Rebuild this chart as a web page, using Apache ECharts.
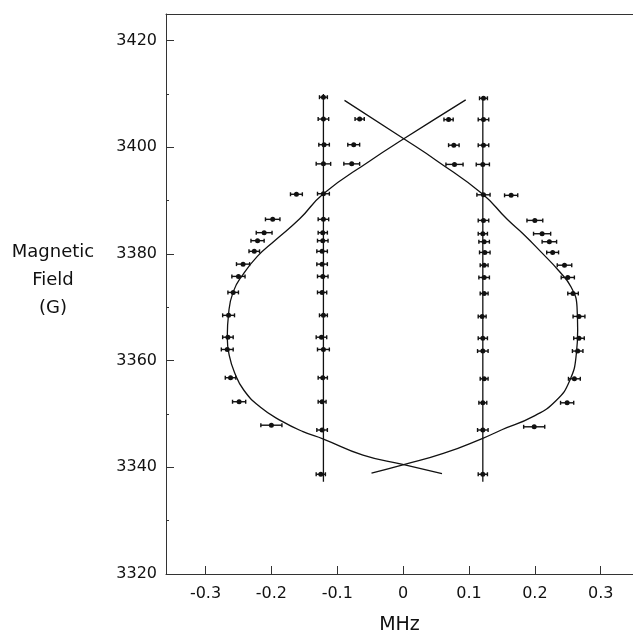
<!DOCTYPE html>
<html>
<head>
<meta charset="utf-8">
<title>Magnetic Field vs MHz</title>
<script src="https://cdn.jsdelivr.net/npm/echarts@6/dist/echarts.min.js"></script>
<style>
    html, body { margin: 0; padding: 0; background: #fff; }
    #chart { width: 633px; height: 632px; }
</style>
</head>
<body>
<div id="chart"></div>
<script>
// tick labels
const xTickValues = [-0.3, -0.2, -0.1, 0, 0.1, 0.2, 0.3];

// measured points: [MHz, field (G), half width of error bar (MHz)]
const innerLeft = [
    [-0.121, 3409.4, 0.006], [-0.121, 3405.3, 0.008], [-0.120, 3400.5, 0.008],
    [-0.121, 3396.9, 0.011], [-0.121, 3391.3, 0.009], [-0.121, 3386.5, 0.008],
    [-0.122, 3384.0, 0.007], [-0.122, 3382.5, 0.008], [-0.123, 3380.5, 0.008],
    [-0.123, 3378.1, 0.008], [-0.122, 3375.8, 0.008], [-0.123, 3372.8, 0.007],
    [-0.121, 3368.5, 0.006], [-0.124, 3364.4, 0.008], [-0.121, 3362.1, 0.009],
    [-0.122, 3356.8, 0.007], [-0.123, 3352.3, 0.006], [-0.123, 3347.0, 0.008],
    [-0.125, 3338.7, 0.007]
];
const innerRight = [
    [0.122, 3409.2, 0.006], [0.122, 3405.2, 0.008], [0.122, 3400.4, 0.008],
    [0.121, 3396.8, 0.010], [0.122, 3391.1, 0.010], [0.122, 3386.3, 0.008],
    [0.121, 3383.8, 0.007], [0.123, 3382.3, 0.008], [0.124, 3380.3, 0.008],
    [0.123, 3377.9, 0.006], [0.123, 3375.6, 0.008], [0.123, 3372.6, 0.006],
    [0.120, 3368.3, 0.006], [0.121, 3364.2, 0.007], [0.121, 3361.8, 0.008],
    [0.123, 3356.6, 0.006], [0.121, 3352.1, 0.006], [0.121, 3347.0, 0.008],
    [0.121, 3338.7, 0.007]
];
const outerLeft = [
    [-0.066, 3405.3, 0.007], [-0.075, 3400.5, 0.009], [-0.078, 3396.9, 0.012],
    [-0.162, 3391.2, 0.009], [-0.198, 3386.5, 0.011], [-0.211, 3384.0, 0.012],
    [-0.221, 3382.5, 0.010], [-0.226, 3380.5, 0.008], [-0.243, 3378.1, 0.010],
    [-0.250, 3375.8, 0.010], [-0.258, 3372.8, 0.008], [-0.265, 3368.5, 0.009],
    [-0.266, 3364.4, 0.008], [-0.267, 3362.1, 0.009], [-0.262, 3356.8, 0.008],
    [-0.249, 3352.3, 0.010], [-0.200, 3347.9, 0.016]
];
const outerRight = [
    [0.069, 3405.2, 0.007], [0.077, 3400.4, 0.008], [0.078, 3396.8, 0.013],
    [0.164, 3391.0, 0.010], [0.200, 3386.3, 0.012], [0.211, 3383.8, 0.013],
    [0.222, 3382.3, 0.011], [0.227, 3380.3, 0.009], [0.245, 3377.9, 0.011],
    [0.250, 3375.6, 0.010], [0.258, 3372.6, 0.008], [0.267, 3368.3, 0.009],
    [0.267, 3364.2, 0.008], [0.265, 3361.8, 0.008], [0.260, 3356.6, 0.009],
    [0.249, 3352.1, 0.010], [0.199, 3347.6, 0.016]
];

// fitted curves
const curveLeft = [
    [0.059, 3338.8], [0.001, 3340.5], [-0.061, 3342.3], [-0.121, 3345.3],
    [-0.152, 3346.7], [-0.185, 3348.7], [-0.217, 3351.3], [-0.242, 3354.5],
    [-0.256, 3357.8], [-0.264, 3361.0], [-0.267, 3364.4], [-0.265, 3368.8],
    [-0.258, 3372.9], [-0.243, 3376.2], [-0.221, 3379.6], [-0.195, 3382.5],
    [-0.157, 3386.6], [-0.121, 3391.3], [-0.050, 3397.5], [0.001, 3401.6],
    [0.095, 3408.9]
];
const curveRight = [
    [-0.048, 3338.9], [0.001, 3340.5], [0.061, 3342.6], [0.120, 3345.4],
    [0.149, 3347.0], [0.197, 3349.5], [0.232, 3352.5], [0.253, 3356.3],
    [0.263, 3361.3], [0.265, 3365.7], [0.264, 3370.1], [0.255, 3373.8],
    [0.236, 3376.9], [0.210, 3380.3], [0.182, 3383.8], [0.158, 3386.5],
    [0.121, 3391.2], [0.051, 3397.5], [0.001, 3401.6], [-0.089, 3408.8]
];
const lineLeft = [[-0.121, 3337.3], [-0.121, 3410.0]];
const lineRight = [[0.121, 3337.3], [0.121, 3409.6]];

const ink = '#111';
const fontFamily = 'DejaVu Sans';

function renderErrorPoint(params, api) {
    const x = api.value(0);
    const y = api.value(1);
    const e = api.value(2);
    const p = api.coord([x, y]);
    const l = api.coord([x - e, y]);
    const r = api.coord([x + e, y]);
    const style = { stroke: ink, lineWidth: 1.4 };
    return {
        type: 'group',
        children: [
            { type: 'line', shape: { x1: l[0], y1: l[1], x2: r[0], y2: r[1] }, style: style },
            { type: 'line', shape: { x1: l[0], y1: l[1] - 2, x2: l[0], y2: l[1] + 2 }, style: style },
            { type: 'line', shape: { x1: r[0], y1: r[1] - 2, x2: r[0], y2: r[1] + 2 }, style: style },
            { type: 'circle', shape: { cx: p[0], cy: p[1], r: 2.5 }, style: { fill: ink } }
        ]
    };
}

function lineSeries(data, smooth) {
    return {
        type: 'line',
        data: data,
        smooth: smooth,
        showSymbol: false,
        symbol: 'none',
        silent: true,
        lineStyle: { color: ink, width: 1.3 }
    };
}

const chart = echarts.init(document.getElementById('chart'));

chart.setOption({
    animation: false,
    backgroundColor: '#fff',
    // y axis title, three centred lines left of the axis
    title: {
        text: 'Magnetic\nField\n(G)',
        left: 53,
        top: 238,
        textAlign: 'center',
        padding: 0,
        textStyle: { color: ink, fontSize: 18, fontWeight: 'normal', fontFamily: fontFamily, lineHeight: 28 }
    },
    grid: { left: 166, right: 0, top: 14, bottom: 58, outerBoundsMode: 'none', containLabel: false },
    xAxis: [
        {
            type: 'value',
            min: -0.36,
            max: 0.349,
            name: 'MHz',
            nameLocation: 'middle',
            nameGap: 42,
            nameTextStyle: { color: ink, fontSize: 19, fontFamily: fontFamily },
            axisLine: { onZero: false, lineStyle: { color: '#333', width: 1 } },
            axisTick: { inside: true, length: 8, customValues: xTickValues, lineStyle: { color: '#333' } },
            axisLabel: { customValues: xTickValues, margin: 12, color: ink, fontSize: 16, fontFamily: fontFamily },
            splitLine: { show: false }
        },
        {
            type: 'value',
            position: 'top',
            min: -0.36,
            max: 0.349,
            axisLine: { show: true, onZero: false, lineStyle: { color: '#333', width: 1 } },
            axisTick: { show: false },
            axisLabel: { show: false },
            splitLine: { show: false }
        }
    ],
    yAxis: {
        type: 'value',
        min: 3320,
        max: 3425,
        interval: 20,
        axisLine: { show: true, onZero: false, lineStyle: { color: '#333', width: 1 } },
        axisTick: { inside: true, length: 8, lineStyle: { color: '#333' } },
        minorTick: { show: true, splitNumber: 2, length: 3, lineStyle: { color: '#333' } },
        axisLabel: {
            showMaxLabel: false, margin: 9, color: ink, fontSize: 16, fontFamily: fontFamily,
            formatter: function (v) { return String(v); }
        },
        splitLine: { show: false }
    },
    series: [
        lineSeries(lineLeft, false),
        lineSeries(lineRight, false),
        lineSeries(curveLeft, 0.5),
        lineSeries(curveRight, 0.5),
        {
            type: 'custom',
            renderItem: renderErrorPoint,
            silent: true,
            data: innerLeft.concat(innerRight, outerLeft, outerRight)
        }
    ]
});
</script>
</body>
</html>
